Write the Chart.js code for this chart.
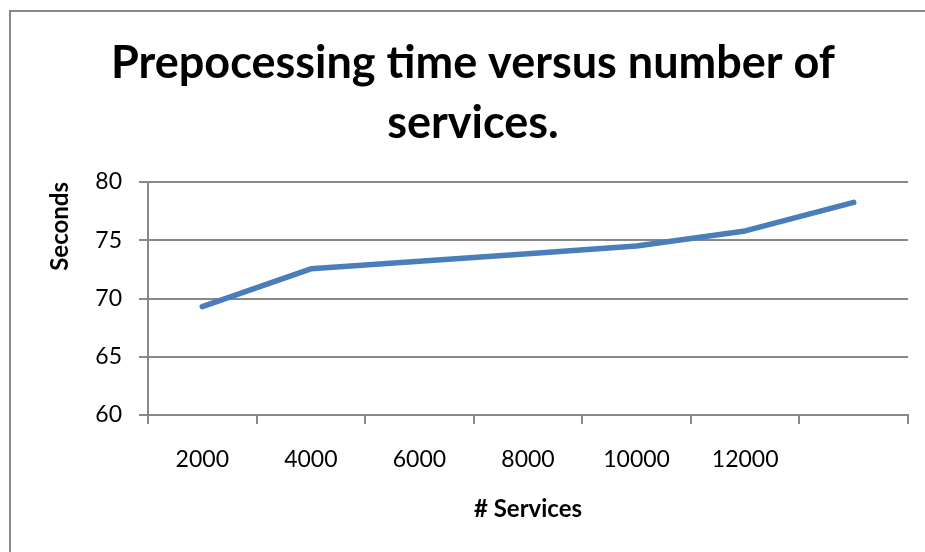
<!DOCTYPE html>
<html>
<head>
<meta charset="utf-8">
<title>Prepocessing time versus number of services.</title>
<script src="https://cdn.jsdelivr.net/npm/chart.js@4.4.1/dist/chart.umd.min.js"></script>
<style>
  html, body { margin: 0; padding: 0; background: #ffffff; overflow: hidden; }
  #frame {
    position: absolute; left: 9px; top: 10px;
    width: 1000px; height: 1000px;
    border: 2px solid #888888;
  }
  #chart { position: absolute; left: 0; top: 0; }
</style>
</head>
<body>
<div id="frame"></div>
<canvas id="chart" width="925" height="552"></canvas>
<script>
// Number of services per run (the last category carries no printed label)
const categories = ['2000', '4000', '6000', '8000', '10000', '12000', ''];
// Preprocessing time in seconds
const seconds = [69.3, 72.55, 73.2, 73.85, 74.5, 75.8, 78.25];
// Value axis ticks
const yTicks = [60, 65, 70, 75, 80];

const titleLines = ['Prepocessing time versus number of', 'services.'];
const xTitle = '# Services';
const yTitle = 'Seconds';

const gridGray = '#888888';
const lineBlue = '#4a7ebb';
const fontFamily = 'Lato, "Open Sans", "DejaVu Sans", sans-serif';

new Chart(document.getElementById('chart'), {
  type: 'line',
  data: {
    labels: categories,
    datasets: [{
      data: seconds,
      borderColor: lineBlue,
      borderWidth: 5.5,
      borderCapStyle: 'round',
      borderJoinStyle: 'round',
      pointRadius: 0,
      pointHoverRadius: 0,
      tension: 0,
      fill: false
    }]
  },
  options: {
    responsive: false,
    animation: false,
    devicePixelRatio: 1,
    events: [],
    layout: { padding: { left: 38, right: 17, top: 11, bottom: 0 } },
    plugins: {
      legend: { display: false },
      tooltip: { enabled: false },
      title: {
        display: true,
        text: titleLines,
        color: '#000000',
        font: { family: fontFamily, size: 45, weight: 'bold', lineHeight: 60 / 45 },
        padding: { top: 22, bottom: 29 }
      }
    },
    scales: {
      x: {
        type: 'category',
        offset: true,
        grid: {
          offset: true,
          drawOnChartArea: false,
          drawTicks: true,
          tickLength: 9,
          color: gridGray,
          lineWidth: 2
        },
        border: { display: true, color: gridGray, width: 2 },
        ticks: {
          color: '#000000',
          padding: 22,
          maxRotation: 0,
          autoSkip: false,
          font: { family: fontFamily, size: 23 }
        },
        title: {
          display: true,
          text: xTitle,
          color: '#000000',
          font: { family: fontFamily, size: 24, weight: 'bold', lineHeight: 1.2 },
          padding: { top: 0, bottom: 28 }
        },
        afterFit: (scale) => { scale.height = 137; }
      },
      y: {
        min: yTicks[0],
        max: yTicks[yTicks.length - 1],
        afterBuildTicks: (scale) => { scale.ticks = yTicks.map(v => ({ value: v })); },
        grid: {
          drawTicks: true,
          tickLength: 9,
          color: gridGray,
          lineWidth: 2
        },
        border: { display: true, color: gridGray, width: 2 },
        ticks: {
          color: '#000000',
          padding: 17,
          font: { family: fontFamily, size: 23 }
        },
        title: {
          display: true,
          text: yTitle,
          align: 'end',
          color: '#000000',
          font: { family: fontFamily, size: 24, weight: 'bold', lineHeight: 1.2 },
          padding: { top: 8, bottom: 0 }
        },
        afterFit: (scale) => { scale.width = 110; }
      }
    }
  }
});
</script>
</body>
</html>
